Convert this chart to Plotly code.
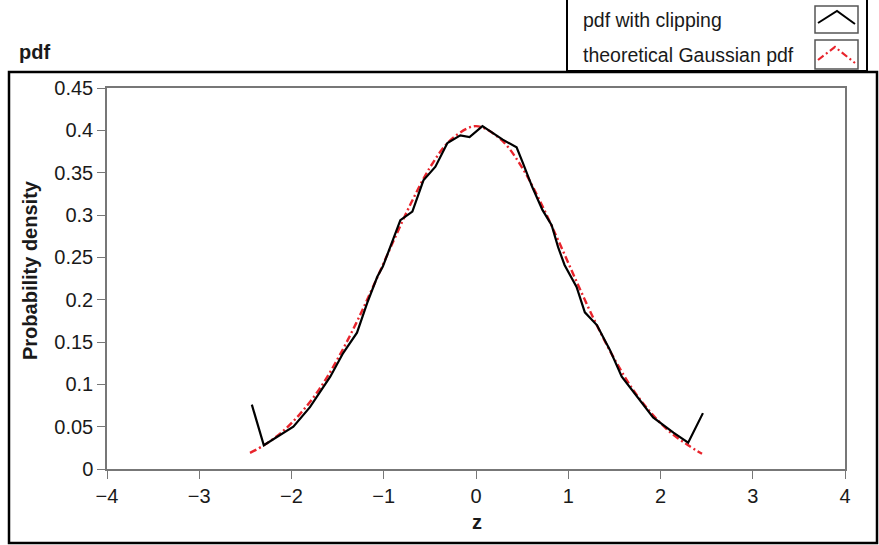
import plotly.graph_objects as go

# Simulated pdf of a clipped signal (black solid)
z_clip = [-2.43, -2.30, -1.98, -1.80, -1.58, -1.44, -1.29, -1.18, -1.07, -1.01,
          -0.82, -0.69, -0.57, -0.44, -0.31, -0.17, -0.07, 0.04, 0.07, 0.29,
          0.44, 0.51, 0.61, 0.72, 0.82, 0.89, 0.96, 1.09, 1.18, 1.31,
          1.45, 1.58, 1.75, 1.92, 2.14, 2.30, 2.46]
pdf_clip = [0.076, 0.028, 0.050, 0.073, 0.109, 0.137, 0.161, 0.196, 0.227, 0.239,
            0.294, 0.304, 0.341, 0.357, 0.385, 0.394, 0.392, 0.403, 0.405, 0.389,
            0.380, 0.361, 0.333, 0.306, 0.288, 0.262, 0.241, 0.215, 0.185, 0.170,
            0.141, 0.109, 0.085, 0.061, 0.043, 0.031, 0.066]

# Theoretical Gaussian pdf (red dash-dot)
z_gauss = [-2.45, -2.3, -2.1, -1.9, -1.7, -1.5, -1.3, -1.1, -0.9, -0.7, -0.5, -0.3, -0.1,
           0.0, 0.1, 0.3, 0.5, 0.7, 0.9, 1.1, 1.3, 1.5, 1.7, 1.9, 2.1, 2.3, 2.45]
pdf_gauss = [0.019, 0.028, 0.044, 0.066, 0.094, 0.130, 0.172, 0.219, 0.268, 0.315, 0.356, 0.386, 0.402,
             0.405, 0.402, 0.386, 0.356, 0.315, 0.268, 0.219, 0.172, 0.130, 0.094, 0.066, 0.044, 0.028, 0.018]

x_ticks = [-4, -3, -2, -1, 0, 1, 2, 3, 4]
y_ticks = [0, 0.05, 0.1, 0.15, 0.2, 0.25, 0.3, 0.35, 0.4, 0.45]
y_labels = ["0", "0.05", "0.1", "0.15", "0.2", "0.25", "0.3", "0.35", "0.4", "0.45"]

W, H = 879, 545
L, R, T, B = 107, 34, 88, 76
PW, PH = W - L - R, H - T - B
FONT = "Liberation Sans, Arial, sans-serif"
RED = "#e8242c"
TXT = "#1a1a1a"
DASH = "7px,3px,2px,3px"


def px(x):
    return (x - L) / PW


def py(y):
    return (H - B - y) / PH


fig = go.Figure()
fig.add_trace(go.Scatter(x=z_gauss, y=pdf_gauss, mode="lines", line_shape="spline",
                         line=dict(color=RED, width=2.4, dash=DASH),
                         name="theoretical Gaussian pdf", showlegend=False))
fig.add_trace(go.Scatter(x=z_clip, y=pdf_clip, mode="lines",
                         line=dict(color="black", width=2.2),
                         name="pdf with clipping", showlegend=False))

shapes = [
    # outer frame around the plot panel
    dict(type="rect", xref="paper", yref="paper", x0=px(9), x1=px(877), y0=py(72), y1=py(543),
         line=dict(color="black", width=2.5)),
    # legend frame
    dict(type="rect", xref="paper", yref="paper", x0=px(567), x1=px(867), y0=py(-3), y1=py(71),
         line=dict(color="black", width=2)),
    # legend key boxes
    dict(type="rect", xref="paper", yref="paper", x0=px(815), x1=px(858), y0=py(6), y1=py(33),
         line=dict(color="#555", width=1.5)),
    dict(type="rect", xref="paper", yref="paper", x0=px(815), x1=px(858), y0=py(40), y1=py(69),
         line=dict(color="#555", width=1.5)),
    # legend key glyphs
    dict(type="path", xref="paper", yref="paper",
         path=f"M {px(818)} {py(23)} L {px(837)} {py(11)} L {px(855)} {py(24)}",
         line=dict(color="black", width=2)),
    dict(type="path", xref="paper", yref="paper",
         path=f"M {px(818)} {py(60)} L {px(835)} {py(47)} L {px(855)} {py(63)}",
         line=dict(color=RED, width=2.2, dash=DASH)),
]

annotations = [
    dict(text="<b>pdf</b>", xref="paper", yref="paper", x=px(17), y=py(52),
         xanchor="left", yanchor="middle", showarrow=False, font=dict(size=20, color=TXT, family=FONT)),
    dict(text="<b>Probability density</b>", xref="paper", yref="paper", x=px(30), y=py(270),
         xanchor="center", yanchor="middle", textangle=-90, showarrow=False,
         font=dict(size=20, color=TXT, family=FONT)),
    dict(text="<b>z</b>", xref="paper", yref="paper", x=px(477), y=py(522),
         xanchor="center", yanchor="middle", showarrow=False, font=dict(size=20, color=TXT, family=FONT)),
    dict(text="pdf with clipping", xref="paper", yref="paper", x=px(581), y=py(20),
         xanchor="left", yanchor="middle", showarrow=False, font=dict(size=19.5, color=TXT, family=FONT)),
    dict(text="theoretical Gaussian pdf", xref="paper", yref="paper", x=px(581), y=py(55),
         xanchor="left", yanchor="middle", showarrow=False, font=dict(size=19.5, color=TXT, family=FONT)),
]

fig.update_layout(
    width=W, height=H,
    margin=dict(l=L, r=R, t=T, b=B),
    paper_bgcolor="white", plot_bgcolor="white",
    shapes=shapes, annotations=annotations,
    font=dict(family=FONT, size=20, color=TXT),
)
fig.update_xaxes(range=[-4, 4], tickvals=x_ticks, ticks="outside", ticklen=8, tickcolor="#777",
                 showline=True, mirror=True, linecolor="#777", linewidth=1.5,
                 showgrid=False, zeroline=False, tickfont=dict(size=20, family=FONT, color=TXT))
fig.update_yaxes(range=[0, 0.45], tickvals=y_ticks, ticktext=y_labels, ticks="outside", ticklen=8,
                 tickcolor="#777", showline=True, mirror=True, linecolor="#777", linewidth=1.5,
                 showgrid=False, zeroline=False, tickfont=dict(size=20, family=FONT, color=TXT))

fig.write_html("out.html")
